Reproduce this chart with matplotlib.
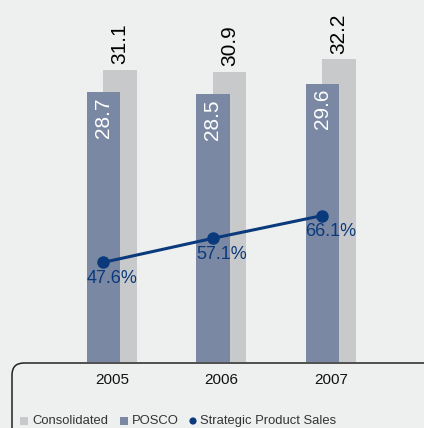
import matplotlib
matplotlib.use('Agg')
import matplotlib.pyplot as plt
from matplotlib.patches import FancyBboxPatch, Rectangle, Circle
from matplotlib.transforms import IdentityTransform
import numpy as np

# data
years = ['2005', '2006', '2007']
consolidated = [31.1, 30.9, 32.2]
posco = [28.7, 28.5, 29.6]
strategic_share = [47.6, 57.1, 66.1]

bg = '#eef0ef'
c_cons = '#c8c9cb'
c_posco = '#7a88a3'
c_line = '#0b3a7c'
fonts = ['Liberation Sans', 'DejaVu Sans']

W, H = 424, 428
fig = plt.figure(figsize=(W / 100, H / 100), dpi=100, facecolor=bg)
base_px = 362
ax = fig.add_axes([0, (H - base_px) / H, 1, base_px / H])
ax.set_facecolor(bg)

x = np.arange(len(years))
bw = 0.306
ax.bar(x + 0.073, consolidated, width=bw, color=c_cons, zorder=1)
ax.bar(x - 0.078, posco, width=bw, color=c_posco, zorder=2)

for xi, v in zip(x, consolidated):
    ax.text(xi + 0.073, v + 0.55, f'{v:.1f}', rotation=90, ha='center', va='bottom',
            fontsize=15, family=fonts, color='black')
for xi, v in zip(x, posco):
    ax.text(xi - 0.078, v - 0.55, f'{v:.1f}', rotation=90, ha='center', va='top',
            fontsize=15, family=fonts, color='white')

ax.set_xlim(-112 / 109.5, (W - 112) / 109.5)
ax.set_ylim(0, base_px / 9.4)
ax.set_xticks(x)
ax.set_xticklabels(years, family=fonts, fontsize=11, color='#111111')
ax.tick_params(axis='x', length=0, pad=8)
ax.set_yticks([])
for s in ax.spines.values():
    s.set_visible(False)

ax2 = ax.twinx()
ax2.plot(x - 0.078, strategic_share, color=c_line, lw=2.2, marker='o', ms=8, zorder=5)
for xi, v in zip(x, strategic_share):
    ax2.text(xi, v - 3.0, f'{v:.1f}%', ha='center', va='top', fontsize=13,
             family=fonts, color=c_line)
ax2.set_ylim(8.2, 151.3)
ax2.set_yticks([])
for s in ax2.spines.values():
    s.set_visible(False)

# rounded frame under the axis
box = FancyBboxPatch((12, -30), 470, (H - 363) + 30,
                     boxstyle='round,pad=0,rounding_size=12',
                     transform=IdentityTransform(), facecolor='none',
                     edgecolor='#222222', lw=1.1, clip_on=False)
fig.add_artist(box)

# legend
ly = H - 421
fig.add_artist(Rectangle((20, ly - 4), 8, 8, transform=IdentityTransform(),
                         facecolor=c_cons, edgecolor='none'))
fig.text(32 / W, ly / H, 'Consolidated', family=fonts, fontsize=9.4,
         va='center', color='#333333')
fig.add_artist(Rectangle((120, ly - 4), 8, 8, transform=IdentityTransform(),
                         facecolor=c_posco, edgecolor='none'))
fig.text(132 / W, ly / H, 'POSCO', family=fonts, fontsize=9.4,
         va='center', color='#333333')
fig.add_artist(Circle((193, ly), 3.6, transform=IdentityTransform(),
                      facecolor=c_line, edgecolor='none'))
fig.text(200 / W, ly / H, 'Strategic Product Sales', family=fonts, fontsize=9.4,
         va='center', color='#333333')

fig.savefig('out.png', dpi=100, facecolor=bg)
